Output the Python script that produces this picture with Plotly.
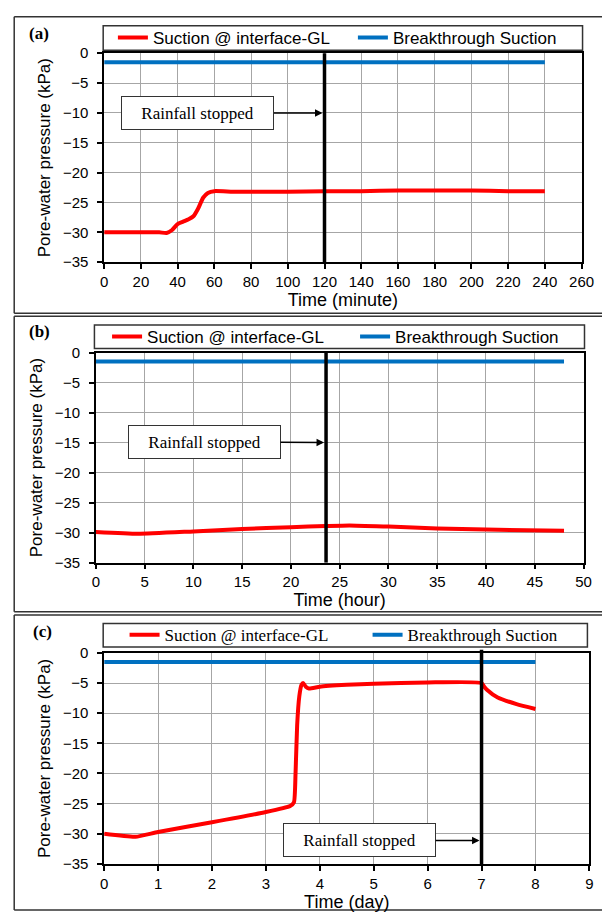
import plotly.graph_objects as go

# ---------------- data ----------------
a_time = [0, 10, 20, 30, 34, 37, 40, 43, 46, 48.6, 51.2, 53.9, 56.5, 60, 70, 80, 100, 120, 140, 160, 180, 200, 220, 240]
a_suction = [-30.0, -30.0, -30.0, -30.0, -30.1, -29.6, -28.6, -28.2, -27.8, -27.3, -26.0, -24.2, -23.4, -23.1, -23.2, -23.2, -23.2, -23.1, -23.1, -23.0, -23.0, -23.0, -23.1, -23.1]
a_break_time = [0, 240]
a_break = [-1.5, -1.5]
a_stop = 120

b_time = [0, 4.3, 10, 15, 20, 23.6, 26, 30, 35, 40, 48]
b_suction = [-29.9, -30.2, -29.8, -29.4, -29.1, -28.9, -28.8, -29.0, -29.3, -29.5, -29.7]
b_break_time = [0, 48]
b_break = [-1.5, -1.5]
b_stop = 23.6

c_time = [0, 0.58, 1.0, 2.0, 3.0, 3.45, 3.52, 3.55, 3.58, 3.62, 3.66, 3.69, 3.74, 3.8, 4.0, 4.5, 5.0, 6.0, 7.0, 7.05, 7.1, 7.3, 7.65, 8.0]
c_suction = [-30.0, -30.5, -29.7, -28.1, -26.4, -25.4, -24.8, -20.0, -12.0, -7.2, -5.3, -5.0, -5.6, -5.9, -5.6, -5.3, -5.1, -4.9, -5.0, -5.6, -6.1, -7.4, -8.5, -9.3]
c_break_time = [0, 8]
c_break = [-1.5, -1.5]
c_stop = 7

panel_labels = ["(a)", "(b)", "(c)"]
x_titles = ["Time (minute)", "Time (hour)", "Time (day)"]
y_title = "Pore-water pressure (kPa)"
legend_names = ["Suction @ interface-GL", "Breakthrough Suction"]
note_text = "Rainfall stopped"

# ---------------- layout helpers ----------------
W, H = 615, 921
def fx(p):
    return p / W
def fy(p):
    return 1 - p / H

SANS = "Liberation Sans"
SERIF = "Liberation Serif"
RED = "#FF0000"
BLUE = "#0070C0"
GRID = "#A6A6A6"
FRAME = "#333333"

panels = [
    dict(t=a_time, s=a_suction, bt=a_break_time, b=a_break, stop=a_stop,
         px=(103, 594), py=(45, 258), xr=[0, 260], dt=20,
         frame=(10.5, 8, 310), lbox=(102, 17, 595, 42), lx=112, lfont=SANS,
         note=dict(ax=51.1, ay=-10.05, y=-10, x=120), vtop=1.0, lab=(36, 25), ent=195),
    dict(t=b_time, s=b_suction, bt=b_break_time, b=b_break, stop=b_stop,
         px=(94.5, 596), py=(350, 564), xr=[0, 50], dt=5,
         frame=(10.5, 313, 614), lbox=(93, 322, 597, 346), lx=106, lfont=SANS,
         note=dict(ax=11.15, ay=-14.9, y=-15, x=b_stop), vtop=1.0, lab=(37, 329), ent=203),
    dict(t=c_time, s=c_suction, bt=c_break_time, b=c_break, stop=c_stop,
         px=(103, 602), py=(656, 871), xr=[0, 9], dt=1,
         frame=(10.5, 617.5, 918), lbox=(102, 626, 600, 650), lx=124, lfont=SERIF,
         note=dict(ax=4.74, ay=-31.1, y=-31.1, x=c_stop), vtop=1.015, lab=(40, 634), ent=198),
]

fig = go.Figure()
shapes = []
annotations = []
layout_axes = {}

for i, p in enumerate(panels):
    n = "" if i == 0 else str(i + 1)
    xa, ya = "x" + n, "y" + n
    lg = "legend" + n
    fig.add_trace(go.Scatter(x=p["t"], y=p["s"], mode="lines", name=legend_names[0],
                             line=dict(color=RED, width=4, shape="spline", smoothing=0.5),
                             xaxis=xa, yaxis=ya, legend=lg))
    fig.add_trace(go.Scatter(x=p["bt"], y=p["b"], mode="lines", name=legend_names[1],
                             line=dict(color=BLUE, width=4),
                             xaxis=xa, yaxis=ya, legend=lg))

    layout_axes["xaxis" + n] = dict(
        domain=[fx(p["px"][0]), fx(p["px"][1])], range=p["xr"], dtick=p["dt"], tick0=0,
        anchor=ya, showgrid=True, gridcolor=GRID, gridwidth=1, zeroline=False,
        showline=True, linecolor="black", linewidth=1.5, mirror=True,
        ticks="outside", ticklen=5, tickcolor="black", tickwidth=1.5,
        tickfont=dict(family=SANS, size=15, color="black"),
        title=dict(text=x_titles[i], font=dict(family=SANS, size=18, color="black"), standoff=3),
    )
    layout_axes["yaxis" + n] = dict(
        domain=[fy(p["py"][1]), fy(p["py"][0])], range=[-35, 0], dtick=5, tick0=0,
        anchor=xa, showgrid=True, gridcolor=GRID, gridwidth=1, zeroline=False,
        showline=True, linecolor="black", linewidth=1.5, mirror=True,
        ticks="outside", ticklen=5, tickcolor="black", tickwidth=1.5,
        ticklabelstandoff=6,
        tickfont=dict(family=SANS, size=15, color="black"),
        title=dict(text=y_title, font=dict(family=SANS, size=17, color="black"), standoff=8),
    )

    layout_axes[lg] = dict(
        orientation="h", x=fx(p["lx"]), xanchor="left",
        y=fy((p["lbox"][1] + p["lbox"][3]) / 2), yanchor="middle",
        bgcolor="rgba(0,0,0,0)", borderwidth=0,
        font=dict(family=p["lfont"], size=17, color="black"),
        entrywidth=p["ent"], entrywidthmode="pixels", itemwidth=30,
        tracegroupgap=0,
    )

    # panel frame (left, top, bottom; open to the right edge of the page)
    fl, ft, fb = p["frame"]
    for (x0, y0, x1, y1) in [(fl, ft, fl, fb), (fl, ft, W, ft), (fl, fb, W, fb)]:
        shapes.append(dict(type="line", xref="paper", yref="paper",
                           x0=fx(x0), x1=fx(x1), y0=fy(y0), y1=fy(y1),
                           line=dict(color=FRAME, width=1.5), layer="below"))
    # legend box
    lb = p["lbox"]
    shapes.append(dict(type="rect", xref="paper", yref="paper",
                       x0=fx(lb[0]), x1=fx(lb[2]), y0=fy(lb[3]), y1=fy(lb[1]),
                       line=dict(color=FRAME, width=1.5)))
    # rainfall-stopped line
    shapes.append(dict(type="line", xref=xa, yref=ya + " domain",
                       x0=p["stop"], x1=p["stop"], y0=0, y1=p["vtop"],
                       line=dict(color="black", width=3.5)))

    nt = p["note"]
    annotations.append(dict(
        x=nt["x"], y=nt["y"], xref=xa, yref=ya, ax=nt["ax"], ay=nt["ay"], axref=xa, ayref=ya,
        text=note_text, showarrow=True, arrowhead=2, arrowsize=1, arrowwidth=1.5,
        arrowcolor="black", standoff=2,
        bordercolor=FRAME, borderwidth=1, bgcolor="white", borderpad=2,
        width=147, height=28,
        font=dict(family=SERIF, size=17, color="black")))
    annotations.append(dict(
        x=fx(p["lab"][0]), y=fy(p["lab"][1]), xref="paper", yref="paper",
        xanchor="center", yanchor="middle",
        text="<b>" + panel_labels[i] + "</b>", showarrow=False,
        font=dict(family=SERIF, size=17, color="black")))

fig.update_layout(
    width=W, height=H, autosize=False,
    margin=dict(l=0, r=0, t=0, b=0),
    paper_bgcolor="white", plot_bgcolor="white",
    shapes=shapes, annotations=annotations,
    **layout_axes,
)

fig.write_html("out.html")
